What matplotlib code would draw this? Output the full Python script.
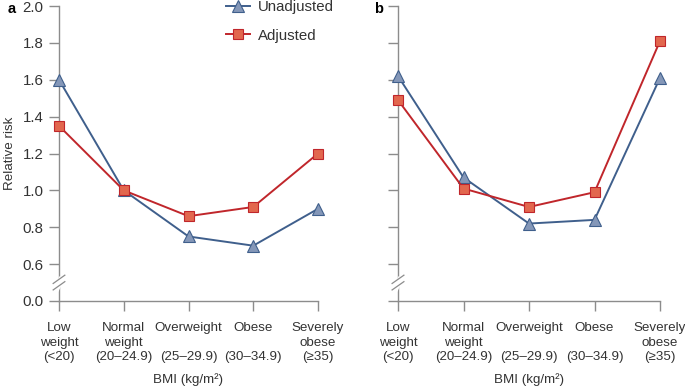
import matplotlib.pyplot as plt
from matplotlib.lines import Line2D

plt.rcParams['font.family'] = ['Liberation Sans', 'DejaVu Sans']

categories = ['Low\nweight\n(<20)', 'Normal\nweight\n(20–24.9)', 'Overweight\n\n(25–29.9)',
              'Obese\n\n(30–34.9)', 'Severely\nobese\n(≥35)']
unadj_a = [1.60, 1.00, 0.75, 0.70, 0.90]
adj_a = [1.35, 1.00, 0.86, 0.91, 1.20]
unadj_b = [1.62, 1.07, 0.82, 0.84, 1.61]
adj_b = [1.49, 1.01, 0.91, 0.99, 1.81]
ytick_vals = [0.4, 0.6, 0.8, 1.0, 1.2, 1.4, 1.6, 1.8, 2.0]
ytick_labels = ['0.0', '0.6', '0.8', '1.0', '1.2', '1.4', '1.6', '1.8', '2.0']

blue_line = '#3f5f8c'
blue_fill = '#8497b8'
red_line = '#c0262b'
red_fill = '#e2674e'
axis_grey = '#8c8c8c'
text_col = '#333333'

fig = plt.figure(figsize=(6.85, 3.88), dpi=100)
ax_a = fig.add_axes([59 / 685, 1 - 301 / 388, 259 / 685, 295 / 388])
ax_b = fig.add_axes([398 / 685, 1 - 301 / 388, 262 / 685, 295 / 388])


def draw_panel(ax, unadj, adj, show_labels):
    x = list(range(len(categories)))
    ax.plot(x, unadj, color=blue_line, lw=1.4, marker='^', ms=9,
            mfc=blue_fill, mec=blue_line, mew=0.8, clip_on=False, zorder=3)
    ax.plot(x, adj, color=red_line, lw=1.4, marker='s', ms=7,
            mfc=red_fill, mec=red_line, mew=0.8, clip_on=False, zorder=4)
    ax.set_xlim(0, 4)
    ax.set_ylim(0.4, 2.0)
    ax.set_xticks(x)
    ax.set_xticklabels(categories, fontsize=9.6, color=text_col, linespacing=1.3)
    ax.set_yticks(ytick_vals)
    if show_labels:
        ax.set_yticklabels(ytick_labels, fontsize=10.8, color=text_col)
    else:
        ax.set_yticklabels([])
    for s in ['top', 'right']:
        ax.spines[s].set_visible(False)
    for s in ['left', 'bottom']:
        ax.spines[s].set_color(axis_grey)
        ax.spines[s].set_linewidth(1.0)
    ax.tick_params(direction='out', length=7, width=1.0, color=axis_grey, pad=4)
    ax.tick_params(axis='x', pad=8)
    ax.set_xlabel('BMI (kg/m²)', fontsize=9.6, color=text_col, labelpad=7)

    # axis break between 0.0 and 0.6
    ax.plot([-0.03, 0.03], [0.47, 0.515], color='white', lw=4,
            clip_on=False, zorder=5)
    for dy in (0.0, 0.035):
        ax.plot([-0.09, 0.09], [0.46 + dy, 0.505 + dy], color=axis_grey, lw=0.9,
                clip_on=False, zorder=6)


draw_panel(ax_a, unadj_a, adj_a, True)
draw_panel(ax_b, unadj_b, adj_b, False)

ax_a.set_ylabel('Relative risk', fontsize=9.6, color=text_col, labelpad=5)
fig.text(8 / 685, 1 - 9 / 388, 'a', fontsize=10.5, fontweight='bold', va='center')
fig.text(374 / 685, 1 - 9 / 388, 'b', fontsize=10.5, fontweight='bold', va='center')

handles = [
    Line2D([], [], color=blue_line, lw=1.4, marker='^', ms=9, mfc=blue_fill,
           mec=blue_line, mew=0.8),
    Line2D([], [], color=red_line, lw=1.4, marker='s', ms=7, mfc=red_fill,
           mec=red_line, mew=0.8),
]
leg = fig.legend(handles, ['Unadjusted', 'Adjusted'], loc='upper left',
                 bbox_to_anchor=(213 / 685, 1 + 13 / 388), frameon=False,
                 fontsize=10.8, handlelength=1.6, labelspacing=0.95, handletextpad=0.5)
for t in leg.get_texts():
    t.set_color(text_col)

fig.savefig('out.png', dpi=100)
